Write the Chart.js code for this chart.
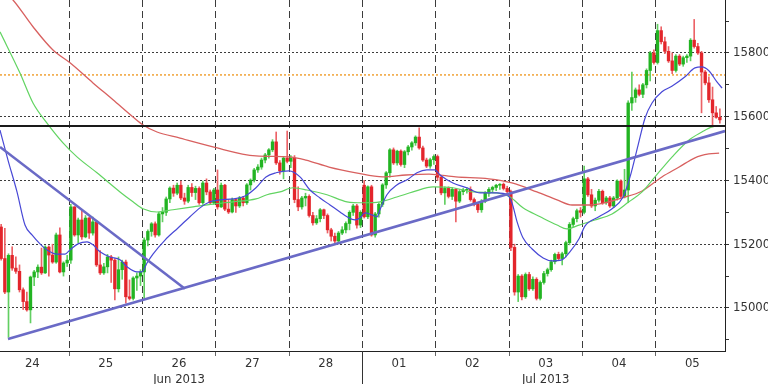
<!DOCTYPE html>
<html><head><meta charset="utf-8">
<script src="https://cdn.jsdelivr.net/npm/chart.js@4/dist/chart.umd.min.js"></script>
<style>html,body{margin:0;padding:0;background:#fff;}#wrap{width:768px;height:384px;}</style>
</head><body><div id="wrap"><canvas id="c" width="768" height="384"></canvas></div>
<script>
// ---- categories / ticks ----
const dayLabels = ['24','25','26','27','28','01','02','03','04','05'];
const monthLabels = {2:'Jun 2013', 7:'Jul 2013'};
const barsPerDay = 20;
const yTicks = [14900,15000,15100,15200,15300,15400,15500,15600,15700,15800,15900];
const resistanceLevel = 15571;
const orangeLevel = 15731;

// ---- hourly candles [open, high, low, close] ----
const jun24 = [[15300,15310,15245,15254],[15254,15262,15150,15155],[15155,15250,15045,15050],[15050,15170,14908,15165],[15165,15192,15118,15125],[15125,15160,15108,15115],[15115,15135,15050,15057],[15057,15063,14995,15020],[15020,15050,14990,14994],[14994,15100,14953,15097],[15097,15118,15070,15113],[15113,15135,15095,15128],[15128,15188,15105,15110],[15110,15195,15108,15191],[15191,15195,15100,15166],[15166,15200,15140,15144],[15144,15235,15140,15229],[15229,15251,15110,15113],[15113,15145,15100,15141],[15141,15165,15130,15150]];
const jun25 = [[15150,15325,15140,15317],[15317,15318,15225,15229],[15229,15282,15205,15276],[15276,15307,15215,15223],[15223,15290,15220,15282],[15282,15285,15218,15235],[15235,15285,15228,15270],[15270,15275,15130,15135],[15135,15180,15105,15110],[15110,15140,15105,15129],[15129,15168,15110,15160],[15160,15165,15080,15150],[15150,15155,15025,15060],[15060,15160,15050,15120],[15120,15150,15090,15144],[15144,15150,15015,15035],[15035,15088,15025,15030],[15030,15098,15025,15094],[15094,15110,15055,15100],[15100,15120,15070,15113]];
const jun26 = [[15113,15220,15030,15213],[15213,15245,15195,15240],[15240,15268,15225,15264],[15264,15270,15222,15229],[15229,15300,15225,15295],[15295,15315,15270,15300],[15300,15348,15290,15342],[15342,15380,15330,15376],[15376,15385,15350,15360],[15360,15392,15355,15385],[15385,15398,15340,15345],[15345,15360,15325,15335],[15335,15385,15330,15378],[15378,15390,15350,15362],[15362,15382,15340,15375],[15375,15380,15325,15330],[15330,15398,15325,15392],[15392,15405,15355,15364],[15364,15370,15325,15330],[15330,15375,15325,15370]];
const jun27 = [[15370,15433,15310,15317],[15317,15392,15315,15385],[15385,15388,15305,15310],[15310,15340,15296,15301],[15301,15345,15298,15340],[15340,15342,15300,15320],[15320,15350,15315,15345],[15345,15350,15320,15330],[15330,15390,15325,15386],[15386,15405,15370,15401],[15401,15438,15395,15433],[15433,15450,15425,15442],[15442,15470,15435,15464],[15464,15485,15455,15480],[15480,15500,15470,15496],[15496,15528,15490,15521],[15521,15552,15450,15455],[15455,15462,15420,15430],[15430,15475,15405,15470],[15470,15555,15455,15460]];
const jun28 = [[15460,15478,15440,15470],[15470,15478,15330,15340],[15340,15380,15305,15317],[15317,15350,15310,15345],[15345,15360,15320,15350],[15350,15355,15285,15290],[15290,15300,15260,15267],[15267,15290,15262,15280],[15280,15312,15270,15308],[15308,15310,15280,15290],[15290,15295,15235,15245],[15245,15250,15210,15225],[15225,15235,15205,15210],[15210,15240,15205,15235],[15235,15255,15230,15245],[15245,15270,15235,15265],[15265,15305,15245,15300],[15300,15325,15290,15320],[15320,15325,15250,15260],[15260,15305,15252,15300]];
const jul01 = [[15385,15400,15282,15286],[15286,15383,15280,15380],[15380,15385,15225,15229],[15229,15300,15222,15295],[15295,15330,15285,15325],[15325,15390,15318,15386],[15386,15428,15375,15424],[15424,15500,15410,15496],[15496,15502,15450,15455],[15455,15495,15448,15492],[15492,15496,15445,15450],[15450,15494,15440,15490],[15490,15510,15480,15505],[15505,15522,15495,15518],[15518,15540,15510,15536],[15536,15565,15498,15502],[15502,15508,15460,15464],[15464,15470,15440,15445],[15445,15470,15438,15465],[15465,15480,15450,15475]];
const jul02 = [[15475,15480,15400,15410],[15410,15415,15355,15361],[15361,15380,15325,15375],[15375,15380,15345,15350],[15350,15378,15340,15372],[15372,15375,15270,15335],[15335,15372,15330,15365],[15365,15375,15355,15370],[15370,15378,15360,15372],[15372,15380,15335,15340],[15340,15345,15320,15325],[15325,15330,15300,15308],[15308,15340,15300,15335],[15335,15365,15330,15360],[15360,15378,15350,15372],[15372,15382,15362,15378],[15378,15388,15368,15385],[15385,15390,15372,15388],[15388,15392,15370,15375],[15375,15382,15360,15365]];
const jul03 = [[15365,15370,15180,15190],[15190,15200,15040,15050],[15050,15105,15020,15100],[15100,15105,15025,15035],[15035,15110,15030,15105],[15105,15112,15055,15060],[15060,15098,15055,15090],[15090,15095,15025,15030],[15030,15085,15025,15080],[15080,15115,15075,15108],[15108,15125,15100,15120],[15120,15150,15115,15145],[15145,15172,15138,15168],[15168,15175,15150,15155],[15155,15175,15135,15170],[15170,15210,15160,15205],[15205,15268,15198,15262],[15262,15285,15255,15280],[15280,15310,15270,15305],[15305,15315,15285,15300]];
const jul04 = [[15300,15445,15295,15405],[15405,15410,15350,15355],[15355,15372,15315,15320],[15320,15345,15305,15338],[15338,15372,15332,15366],[15366,15370,15325,15330],[15330,15350,15325,15345],[15345,15350,15315,15320],[15320,15350,15315,15345],[15345,15402,15338,15398],[15398,15402,15345,15350],[15350,15435,15345,15370],[15370,15650,15330,15643],[15643,15740,15620,15660],[15660,15690,15645,15684],[15684,15700,15665,15670],[15670,15705,15660,15700],[15700,15750,15690,15745],[15745,15805,15712,15800],[15800,15810,15765,15770]];
const jul05 = [[15770,15890,15765,15870],[15870,15882,15828,15835],[15835,15850,15798,15805],[15805,15820,15770,15775],[15775,15800,15735,15745],[15745,15795,15740,15790],[15790,15795,15760,15765],[15765,15790,15758,15785],[15785,15795,15770,15790],[15790,15845,15775,15840],[15840,15905,15815,15820],[15820,15830,15795,15800],[15800,15805,15612,15740],[15740,15745,15700,15706],[15706,15725,15645,15653],[15653,15693,15568,15612],[15612,15632,15595,15598],[15598,15625,15580,15590]];

// ---- moving averages [bar index, price] ----
const maShort = [[0.68,15558],[2.86,15464],[5.32,15364],[7.5,15260],[9.41,15229],[11.59,15201],[13.5,15182],[16.23,15169],[18.41,15169],[19.77,15182],[21.95,15201],[24.41,15207],[26.04,15198],[27.95,15176],[30.68,15160],[33.41,15151],[35.32,15129],[38.04,15113],[39.41,15113],[40.77,15141],[42.4,15169],[45.68,15213],[49.22,15251],[52.49,15286],[55.22,15314],[57.95,15333],[60.68,15339],[64.22,15342],[67.49,15351],[70.49,15377],[73.22,15411],[75.95,15424],[79.49,15430],[82.49,15411],[85.22,15370],[87.95,15345],[90.68,15323],[93.4,15301],[95.31,15286],[97.5,15276],[98.86,15282],[100.2,15298],[102.1,15292],[103.5,15286],[104.3,15308],[106.2,15355],[108.9,15386],[111.7,15402],[114.4,15424],[117.1,15433],[119.3,15433],[120.7,15417],[124.2,15392],[128,15377],[131.6,15361],[136.2,15361],[139,15355],[140.3,15330],[141.7,15270],[143.3,15220],[145.8,15185],[148.8,15157],[151.2,15148],[153.9,15151],[156.1,15176],[158.6,15217],[160.2,15257],[164,15286],[167.6,15311],[170.6,15348],[172.5,15411],[174.7,15511],[176.6,15596],[178.5,15643],[181.2,15678],[184,15696],[187.5,15725],[190.2,15753],[192.1,15756],[194,15744],[196.2,15709],[197.6,15690]];
const maMid = [[0.68,15866],[6.13,15737],[9.68,15643],[13.5,15580],[17.86,15518],[21.68,15474],[27.13,15424],[33.41,15364],[36.95,15333],[39.68,15311],[43.5,15301],[47.86,15308],[53.31,15317],[58.77,15326],[64.22,15333],[70.49,15342],[73.49,15355],[77.04,15364],[80.58,15377],[84.4,15370],[89.86,15355],[95.31,15333],[99.67,15330],[104.3,15333],[108.9,15348],[113.3,15364],[118.8,15380],[124.2,15377],[129.7,15364],[136.2,15361],[139.8,15348],[143.3,15314],[148,15286],[152.6,15260],[155.3,15248],[158.6,15260],[162.9,15276],[167.6,15295],[172.2,15333],[175.8,15364],[179.3,15411],[184,15474],[188.6,15527],[192.1,15552],[194.9,15568],[197,15571]];
const maLong = [[0.68,16004],[4.23,15966],[9.68,15882],[15.13,15809],[19.77,15769],[26.04,15706],[31.5,15653],[36.95,15599],[39.68,15574],[43.5,15552],[49.77,15533],[58.77,15505],[70.49,15477],[79.49,15474],[84.13,15464],[90.4,15442],[97.76,15424],[105.1,15411],[111.4,15417],[117.7,15420],[125,15411],[134,15405],[140.3,15392],[147.1,15364],[152.6,15339],[156.7,15323],[161.6,15323],[165.7,15330],[170.3,15345],[175.8,15367],[181.2,15411],[185.9,15442],[190.2,15471],[194,15483],[196.8,15486]];

// ---- trend lines [bar index, price] ----
const trendUp = [[2.86,14903],[198.4,15555]];
const trendDown = [[0.68,15505],[51.1,15060]];

// ---- axis range ----
const xMin = 0.681, xMax = 198.4;
const yMin = 14865, yMax = 15966;

const candles = [jun24,jun25,jun26,jun27,jun28,jul01,jul02,jul03,jul04,jul05].flat();
const upBody = '#22b422', dnBody = '#e3252b', upWick = '#62cf62', dnWick = '#ec6266';
const isUp = candles.map(c => c[3] >= c[0]);
const pts = a => a.map(p => ({x:p[0], y:p[1]}));
const fontFam = "'DejaVu Sans Condensed','DejaVu Sans',sans-serif";

const monthSep = {
  id: 'monthSep',
  afterDraw(chart) {
    const {ctx, chartArea} = chart;
    const x = chart.scales.x;
    const px = Math.round(x.getPixelForValue(5 * barsPerDay - 0.5)) + 0.5;
    ctx.save();
    ctx.strokeStyle = '#333'; ctx.lineWidth = 1;
    ctx.beginPath(); ctx.moveTo(px, chartArea.bottom); ctx.lineTo(px, chart.height); ctx.stroke();
    ctx.restore();
  }
};

const zeroPad = s => { s.paddingTop = 0; s.paddingBottom = 0; s.paddingLeft = 0; s.paddingRight = 0; };
const lineBase = {type:'line', pointRadius:0, fill:false, tension:0};

new Chart(document.getElementById('c'), {
  type: 'bar',
  data: {
    datasets: [
      {...lineBase, data:pts([[xMin,resistanceLevel],[xMax,resistanceLevel]]), borderColor:'#1a1a1a', borderWidth:2, order:0},
      {...lineBase, data:pts(trendUp), borderColor:'#6a6ac6', borderWidth:2.6, order:1},
      {...lineBase, data:pts(trendDown), borderColor:'#6a6ac6', borderWidth:2.6, order:1},
      {...lineBase, data:pts(maShort), borderColor:'#4848d6', borderWidth:1.2, cubicInterpolationMode:'monotone', order:2},
      {...lineBase, data:pts(maMid), borderColor:'#62d462', borderWidth:1.2, cubicInterpolationMode:'monotone', order:3},
      {...lineBase, data:pts(maLong), borderColor:'#d8605f', borderWidth:1.3, cubicInterpolationMode:'monotone', order:4},
      {type:'bar', data:candles.map((c,i)=>({x:i, y:[c[0], c[3]]})), backgroundColor:isUp.map(u=>u?upBody:dnBody), barThickness:2.7, grouped:false, borderWidth:0, order:5},
      {type:'bar', data:candles.map((c,i)=>({x:i, y:[c[2], c[1]]})), backgroundColor:isUp.map(u=>u?upWick:dnWick), barThickness:1, grouped:false, borderWidth:0, order:6},
      {...lineBase, data:pts([[xMin,orangeLevel],[xMax,orangeLevel]]), borderColor:'#f0a236', borderWidth:1.5, borderDash:[2,2], order:7}
    ]
  },
  options: {
    responsive:false, animation:false, maintainAspectRatio:false,
    layout:{padding:0},
    plugins:{legend:{display:false}, tooltip:{enabled:false}},
    scales:{
      x:{
        type:'linear', min:xMin, max:xMax, offset:false, position:'bottom',
        afterBuildTicks: s => { s.ticks = dayLabels.map((_,k)=>({value:k*barsPerDay + (barsPerDay-1)/2})); },
        ticks:{autoSkip:false, maxRotation:0, padding:0, color:'#333', font:{family:fontFam, size:13},
          callback:(v,i)=> monthLabels[i] ? [dayLabels[i], monthLabels[i]] : dayLabels[i]},
        grid:{offset:true, color:'#3c3c3c', lineWidth:1, drawTicks:true, tickLength:5, tickColor:'#666', tickBorderDash:[]},
        border:{display:true, color:'#222', width:1, dash:[7,4]},
        afterFit: s => { s.height = 33; zeroPad(s); }
      },
      y:{
        type:'linear', position:'right', min:yMin, max:yMax,
        afterBuildTicks: s => { s.ticks = yTicks.map(v=>({value:v})); },
        ticks:{autoSkip:false, padding:4, color:'#333', font:{family:fontFam, size:13},
          callback: v => (v % 200 === 0 ? String(v) : '')},
        grid:{color: c => (c.tick && c.tick.value % 200 === 0) ? '#3c3c3c' : 'rgba(0,0,0,0)', tickColor:'#333', tickLength:4, lineWidth:1, tickBorderDash:[]},
        border:{display:true, color:'#222', width:1, dash:[2,2]},
        afterFit: s => { s.width = 43; zeroPad(s); }
      }
    }
  },
  plugins:[monthSep]
});
</script></body></html>
